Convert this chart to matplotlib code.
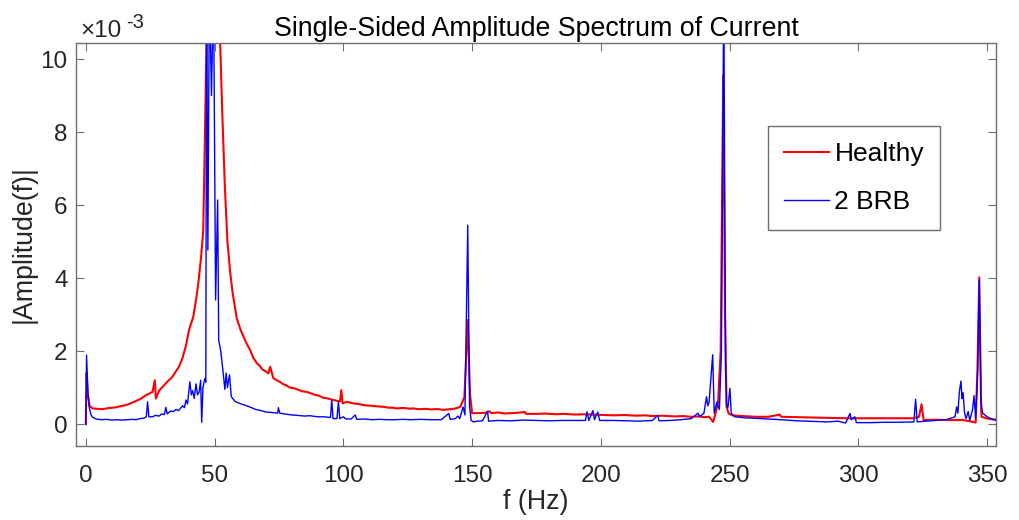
import matplotlib
matplotlib.use('Agg')
import matplotlib.pyplot as plt

plt.rcParams['font.family'] = ['Liberation Sans', 'DejaVu Sans']

# Spectrum values (amplitude in units of 1e-3)
healthy_f = [0, 0.3, 0.8, 1.5, 2.6, 4, 6.5, 9, 11.7, 13.5, 15.5, 17.5, 19.4, 21.5, 23.3, 25.9,
             26.8, 27.2, 28.5, 29.8, 31.5, 33.7, 35, 36.2, 37.5, 38.8, 40.1, 41.7, 42.8, 43.7,
             44.8, 45.6, 46.3, 46.9, 48, 50, 52.1, 53.0, 54.0, 55.0, 56.0, 57.0, 58.6, 60.0,
             61.2, 62.5, 63.8, 65.0, 66.4, 67.5, 68.5, 69.8, 70.9, 71.6, 72.8, 74.2, 75.3, 76.5,
             77.8, 79.3, 81.0, 82.5, 84.0, 85.8, 87.5, 89, 90.5, 92.3, 94.0, 96.2, 98.7, 99.2,
             99.7, 101.4, 103.0, 104.5, 106.0, 107.8, 109.5, 111, 112.8, 114.3, 116.0, 117.5,
             119.0, 120.8, 122.5, 124, 125.5, 127.1, 129.0, 130.5, 132.0, 133.8, 135.5, 137,
             138.5, 140.3, 142.0, 143, 145.4, 147, 148.3, 149.2, 150, 152, 155, 156.7, 157.5,
             160, 162.5, 165, 167.5, 170.5, 171, 175, 178, 182.7, 186, 190, 193, 197, 201, 205,
             209, 213.7, 217, 220, 224, 228.6, 232, 235, 238, 240, 242, 243.6, 244.5, 245.5,
             246.5, 247.5, 248.2, 248.8, 249.6, 251, 255, 260, 265, 269.5, 270, 276, 282.4, 290,
             295.4, 302, 308.3, 315, 321.3, 323.5, 324.5, 325.3, 330, 335, 340.7, 344.6, 345.5,
             346.2, 346.9, 347.6, 347.8, 350, 353.5]
healthy_amp = [0, 1.4, 0.8, 0.5, 0.43, 0.42, 0.41, 0.44, 0.46, 0.49, 0.52, 0.57, 0.63, 0.7, 0.79,
               0.88, 1.2, 0.7, 0.92, 1.02, 1.15, 1.3, 1.45, 1.57, 1.8, 2.12, 2.58, 2.93, 3.4,
               3.86, 4.6, 5.3, 8.05, 10.6, 14, 16, 10.6, 8.5, 6.5, 5.0, 4.2, 3.6, 2.9, 2.6,
               2.4, 2.2, 2.03, 1.82, 1.67, 1.6, 1.5, 1.45, 1.39, 1.57, 1.26, 1.2, 1.16, 1.1,
               1.06, 1.0, 0.98, 0.94, 0.9, 0.88, 0.84, 0.8, 0.78, 0.72, 0.7, 0.66, 0.62, 0.93,
               0.57, 0.61, 0.58, 0.56, 0.55, 0.52, 0.51, 0.5, 0.49, 0.48, 0.47, 0.45,
               0.45, 0.43, 0.44, 0.44, 0.42, 0.43, 0.41, 0.41, 0.42, 0.4, 0.41, 0.41,
               0.39, 0.4, 0.41, 0.42, 0.47, 0.74, 2.85, 0.8, 0.3, 0.3, 0.31, 0.35, 0.3,
               0.32, 0.29, 0.3, 0.31, 0.33, 0.28, 0.28, 0.29, 0.27, 0.28, 0.26, 0.27, 0.26, 0.25, 0.24,
               0.25, 0.23, 0.24, 0.22, 0.23, 0.21, 0.22, 0.2, 0.21, 0.19, 0.2,
               0.06, 0.3, 0.6, 2.0, 9.56, 3.0, 0.47, 0.29, 0.24, 0.22, 0.2, 0.2, 0.26,
               0.2, 0.19, 0.18, 0.17, 0.16, 0.16, 0.16, 0.16, 0.16, 0.2, 0.54, 0.11, 0.12, 0.11,
               0.11, 0.06, 0.04, 1.5, 4.02, 0.5, 0.2, 0.15, 0.12]

brb_f = [0, 0.3, 0.8, 1.3, 2.0, 2.6, 4, 6, 8, 10, 12, 14, 16, 18, 19.5, 21, 22.5, 23.5, 24, 24.5,
         26, 27, 28.5, 29.5, 30.5, 31.1, 31.6, 33, 34, 35, 36, 37, 37.6, 38.3, 38.9, 39.5, 40.4,
         41, 41.5, 42.1, 42.8, 43.4, 44, 44.6, 45, 45.5, 46.2, 46.6, 46.9, 47.4, 48, 48.8, 49.6,
         50.4, 51.2, 51.6, 52.4, 53.2, 54, 54.5, 55, 55.8, 56.5, 58, 60, 62.5, 64, 66, 68, 70,
         72, 74.5, 74.8, 75.3, 77, 80, 82, 85, 87, 90, 92.5, 95, 95.5, 96, 97.5, 98.1, 98.6, 100,
         101, 103, 104.6, 105.2, 108, 111, 114, 117, 120, 123, 126, 130, 134, 138, 140.9, 141.5,
         143.5, 144.5, 145.2, 146.5, 147.2, 148.3, 149, 149.6, 150.5, 152, 154, 156, 156.4, 160,
         165, 170, 175, 180, 185, 190, 194, 194.6, 195.3, 196.9, 197.5, 198.8, 199.5, 205, 210,
         215, 220, 222.1, 222.6, 227, 231, 235, 237.7, 238.3, 240, 241, 241.5, 242, 243.4, 244,
         245, 246, 246.8, 247.7, 248.4, 248.8, 249.3, 250.1, 250.6, 252, 256, 260, 265, 270, 276,
         280, 284, 288, 292, 295, 296.7, 297.2, 298.6, 299.2, 305, 310, 315, 321.5, 322.2, 322.8,
         326, 330, 334, 337.5, 338.1, 338.6, 339.2, 339.8, 340.2, 340.6, 341.2, 341.8, 342.6,
         343.2, 344.3, 344.9, 345.5, 346.3, 346.9, 347.6, 348.2, 350, 352, 353.5]
brb_amp = [0, 1.89, 0.9, 0.47, 0.26, 0.19, 0.14, 0.12, 0.13, 0.11, 0.12, 0.11, 0.12, 0.13, 0.12,
           0.15, 0.16, 0.2, 0.61, 0.2, 0.2, 0.24, 0.22, 0.28, 0.26, 0.46, 0.28, 0.36, 0.34, 0.4,
           0.37, 0.45, 0.5, 0.45, 0.66, 0.55, 1.16, 0.8, 0.92, 0.7, 1.1, 0.8, 0.88, 1.2, 0.05,
           1.0, 1.25, 1.15, 12.0, 4.77, 12.0, 9.0, 12.0, 3.4, 6.14, 2.3, 2.0, 1.5, 0.95, 1.4,
           1.0, 1.35, 0.75, 0.62, 0.56, 0.5, 0.46, 0.4, 0.37, 0.33, 0.32, 0.3, 0.45, 0.3, 0.28,
           0.25, 0.24, 0.22, 0.23, 0.2, 0.2, 0.18, 0.66, 0.15, 0.15, 0.61, 0.15, 0.2, 0.14, 0.14,
           0.25, 0.13, 0.14, 0.12, 0.13, 0.12, 0.12, 0.13, 0.12, 0.13, 0.12, 0.12, 0.29, 0.13,
           0.15, 0.22, 0.15, 0.47, 0.25, 5.45, 0.5, 0.1, 0.06, 0.08, 0.09, 0.35, 0.08, 0.1,
           0.09, 0.11, 0.1, 0.09, 0.1, 0.1, 0.1, 0.34, 0.1, 0.37, 0.12, 0.33, 0.1, 0.1, 0.09,
           0.08, 0.1, 0.24, 0.09, 0.1, 0.12, 0.15, 0.3, 0.2, 0.3, 0.75, 0.5, 0.6, 1.9, 0.3,
           0.6, 0.4, 2.0, 12.0, 1.5, 0.5, 0.45, 0.98, 0.3, 0.2, 0.17, 0.16, 0.14, 0.12, 0.09,
           0.08, 0.07, 0.06, 0.08, 0.03, 0.29, 0.12, 0.2, 0.04, 0.04, 0.05, 0.05, 0.06, 0.68, 0.06,
           0.08, 0.1, 0.12, 0.2, 0.47, 0.3, 0.9, 1.18, 0.7, 0.86, 0.3, 0.15, 0.35,
           0.1, 0.4, 0.78, 0.15, 1.5, 3.95, 0.6, 0.3, 0.2, 0.13, 0.11]

x_ticks = [0, 50, 100, 150, 200, 250, 300, 350]
y_ticks = [0, 2, 4, 6, 8, 10]

W, H = 1019, 520
fig = plt.figure(figsize=(W / 100, H / 100), dpi=100)
ax = fig.add_axes([76 / W, 1 - 446 / H, (996 - 76) / W, (446 - 43) / H])

ax.plot(healthy_f, healthy_amp, color='#ff0000', lw=1.5, label='Healthy')
ax.plot(brb_f, brb_amp, color='#0000ff', lw=1.0, label='2 BRB')

ax.set_xlim(-3.8, 353.4)
ax.set_ylim(-0.6, 10.44)
ax.set_xticks(x_ticks)
ax.set_yticks(y_ticks)

axis_col = '#6e6e6e'
for s in ax.spines.values():
    s.set_color(axis_col)
    s.set_linewidth(1.0)
ax.tick_params(direction='in', length=6, width=0.8, color=axis_col,
               top=True, right=True, labelsize=17.5, labelcolor='#262626')
ax.tick_params(axis='x', pad=14)
ax.tick_params(axis='y', pad=6)

ax.set_title('Single-Sided Amplitude Spectrum of Current', fontsize=19.3, pad=5,
             color='#000000')
ax.set_xlabel('f (Hz)', fontsize=19.3, color='#262626', labelpad=1)
ax.set_ylabel('|Amplitude(f)|', fontsize=19.3, color='#262626', labelpad=3)

fig.text(80 / W, 1 - 37 / H, '\u00d710', fontsize=17.5, color='#262626',
         ha='left', va='baseline')
fig.text(126 / W, 1 - 28 / H, '-3', fontsize=14.5, color='#262626',
         ha='left', va='baseline')

leg = ax.legend(loc='upper left', bbox_to_anchor=(768 / W, 1 - 126 / H),
                bbox_transform=fig.transFigure, fontsize=19, frameon=True,
                fancybox=False, framealpha=1, edgecolor=axis_col, borderaxespad=0,
                handlelength=1.7, handletextpad=0.2, labelspacing=0.9, borderpad=0.62)
leg.get_frame().set_linewidth(1.0)

fig.savefig('out.png', dpi=100)
